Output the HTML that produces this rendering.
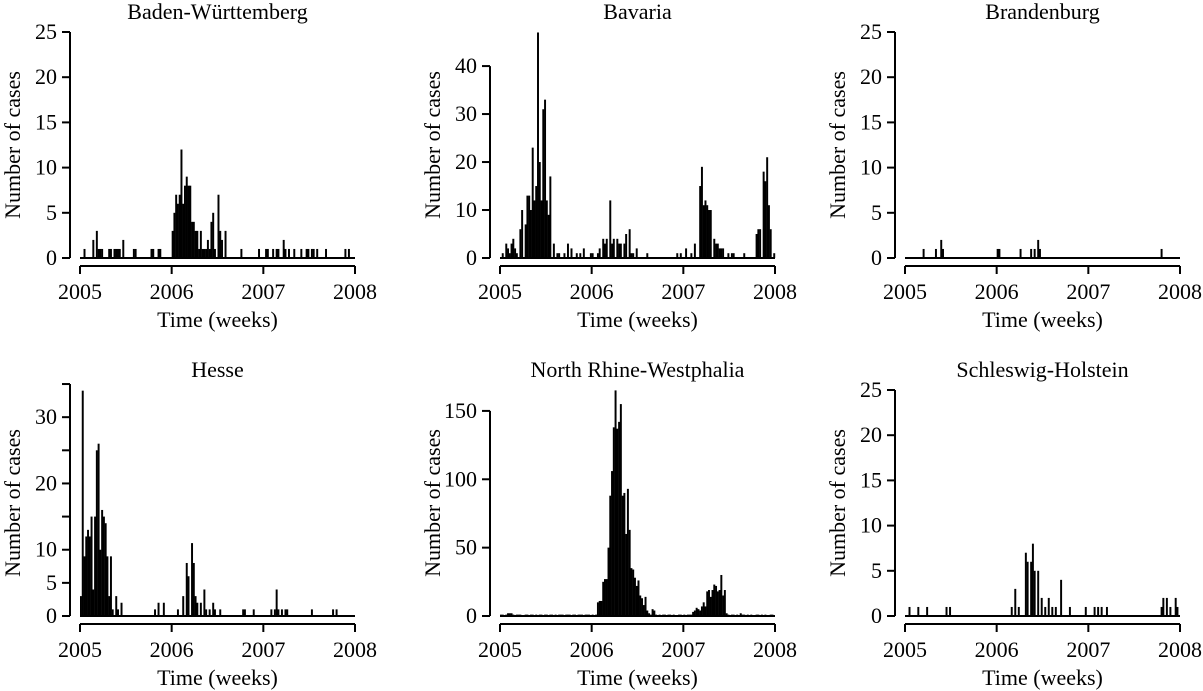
<!DOCTYPE html>
<html><head><meta charset="utf-8"><style>
html,body{margin:0;padding:0;background:#fff;}
svg{display:block;font-family:"Liberation Serif",serif;}
</style></head><body>
<svg id="fig" width="1203" height="691" viewBox="0 0 1203 691" xmlns="http://www.w3.org/2000/svg"></svg>
<script>
const xYears = [2005, 2006, 2007, 2008];
const bwWeeks = [2,7,9,10,11,12,16,17,19,20,21,22,24,30,31,40,41,44,45,52,53,54,55,56,57,58,59,60,61,62,63,64,65,66,67,68,69,70,71,72,73,74,75,76,78,79,80,82,91,101,105,106,109,111,112,115,116,118,121,125,128,129,131,132,134,139,150,152];
const bwCases = [1,2,3,1,1,1,1,1,1,1,1,1,2,1,1,1,1,1,1,3,5,7,6,7,12,6,8,9,8,8,4,4,3,3,1,3,1,1,1,2,1,4,5,1,7,3,2,3,1,1,1,1,1,1,1,2,1,1,1,1,1,1,1,1,1,1,1,1];
const bavWeeks = [1,3,4,5,6,7,8,9,11,12,14,15,16,17,18,19,20,21,22,23,24,25,26,27,28,30,32,33,36,38,40,43,45,47,51,52,55,56,58,59,60,62,63,64,66,67,68,70,71,73,74,75,77,83,100,102,105,108,110,113,114,115,116,117,118,119,121,122,123,124,125,126,129,131,132,138,145,146,147,149,150,151,152,153,155];
const bavCases = [1,3,2,1,3,4,2,1,6,10,7,13,13,10,23,12,15,47,20,12,31,33,12,9,17,3,1,1,1,3,2,1,1,2,1,1,1,2,4,3,4,12,3,4,4,3,3,3,5,6,1,1,2,1,1,1,2,1,3,15,19,11,12,11,10,10,4,3,3,2,2,2,1,1,1,1,5,6,6,18,16,21,11,6,1];
const braWeeks = [10,17,20,21,52,53,65,71,73,75,76,145];
const braCases = [1,1,2,1,1,1,1,1,1,2,1,1];
const heWeeks = [0,1,2,3,4,5,6,7,8,9,10,11,12,13,14,15,16,17,18,20,21,23,42,44,47,55,58,60,61,63,64,65,66,68,70,71,73,75,76,79,92,93,98,108,110,111,112,114,116,117,131,143,145];
const heCases = [3,34,9,12,13,12,15,4,15,25,26,10,16,15,14,9,3,9,1,3,1,2,1,2,2,1,3,8,6,11,8,3,2,2,4,1,1,2,1,1,1,1,1,1,1,4,1,1,1,1,1,1,1];
const nrwCases = [1,1,0,1,2,2,2,1,0,1, 1,1,0,0,1,1,0,1,1,0, 1,0,1,1,0,1,1,0,1,1, 0,1,0,1,1,1,0,1,1,1, 0,1,1,0,1,1,1,0,1,1, 1,0,1,0,1,
 10,11,11,25,27, 27,50,88,106,138,165,137,142,155,88, 90,60,93,63,35,34,28,22,26,15, 13,8,14,4,2,1,5,4,1,0,
 1,0,1,1,0,1,1,0,1,0, 0,1,1,0,1,0,1,1,1,3, 4,6,5,4,7,10,7,18,19,14, 19,23,22,18,19,30,15,19,2,1,
 0,1,1,0,1,0,2,1,1,0, 1,0,1,0,0,1,1,0,1,0, 1,0,0,1,1,0];
const shWeeks = [2,7,12,23,25,60,62,64,68,69,71,72,73,75,77,79,81,83,85,88,93,102,107,109,111,114,145,146,148,150,153,154];
const shCases = [1,1,1,1,1,1,3,1,7,6,6,8,5,5,2,1,2,1,1,4,1,1,1,1,1,1,1,2,2,1,2,1];
const ticks25 = [0,5,10,15,20,25];
const ticksBav = [0,10,20,30,40];
const ticksHe = [0,5,10,15,20,25,30,35];
const labelsHe = ["0","5","10","","20","","30",""];
const ticksNrw = [0,50,100,150];

const NS = "http://www.w3.org/2000/svg";
const svg = document.getElementById("fig");
function mk(tag, attrs, parent){ const e=document.createElementNS(NS,tag); for(const k in attrs) e.setAttribute(k,attrs[k]); (parent||svg).appendChild(e); return e; }

function panel(name, title, ox, oy, topVal, ticks, labels, weeks, cases){
  const g = mk("g",{});
  
  
  const base = 258 + oy, x0 = 80 + ox, x1 = 355 + ox;
  const k = (base - (32 + oy)) / topVal;
  const ys = v => base - v * k;
  const xs = yr => x0 + (yr - 2005) * (x1 - x0) / 3;
  const wk = (x1 - x0) / 156;
  const t = mk("text",{x:(x0+x1)/2, y:19+oy, "text-anchor":"middle","font-size":22},g);
  t.textContent = title;
  
  
  const ya = mk("line",{x1:70+ox,x2:70+ox,y1:ys(ticks[ticks.length-1]),y2:base,stroke:"#000","stroke-width":2},g);
  
  
  ticks.forEach((v,i)=>{
    mk("line",{x1:62+ox,x2:70+ox,y1:ys(v),y2:ys(v),stroke:"#000","stroke-width":2},g);
    const lab = labels ? labels[i] : String(v);
    if(lab){ const tl=mk("text",{x:57+ox,y:ys(v)+7,"text-anchor":"end","font-size":22},g); tl.textContent=lab;
      
       }
  });
  const yt = mk("text",{transform:`translate(${20+ox},${(32+258)/2+oy}) rotate(-90)`,"text-anchor":"middle","font-size":22},g);
  yt.textContent = "Number of cases";
  
  
  const xa = mk("line",{x1:x0,x2:x1,y1:266+oy,y2:266+oy,stroke:"#000","stroke-width":2},g);
  
  
  xYears.forEach(yr=>{
    mk("line",{x1:xs(yr),x2:xs(yr),y1:266+oy,y2:274+oy,stroke:"#000","stroke-width":2},g);
    const tl=mk("text",{x:xs(yr),y:299+oy,"text-anchor":"middle","font-size":22},g); tl.textContent=yr;
    
    
  });
  const xt = mk("text",{x:(x0+x1)/2,y:327+oy,"text-anchor":"middle","font-size":22},g);
  xt.textContent = "Time (weeks)";
  
  
  mk("line",{x1:x0,x2:x1,y1:base,y2:base,stroke:"#000","stroke-width":2},g);
  cases.forEach((v,i)=>{
    const w = weeks ? weeks[i] : i;
    if(v<=0) return;
    const r = mk("rect",{x:x0+w*wk,y:ys(v),width:wk+0.2,height:base-ys(v),fill:"#000"},g);
    
    
  });
}
panel("baden-wurttemberg","Baden-Württemberg",0,0,25,ticks25,null,bwWeeks,bwCases);
panel("bavaria","Bavaria",420,0,47.1,ticksBav,null,bavWeeks,bavCases);
panel("brandenburg","Brandenburg",825,0,25,ticks25,null,braWeeks,braCases);
panel("hesse","Hesse",0,358,34.1,ticksHe,labelsHe,heWeeks,heCases);
panel("north-rhine-westphalia","North Rhine-Westphalia",420,358,165.3,ticksNrw,null,null,nrwCases);
panel("schleswig-holstein","Schleswig-Holstein",825,358,25,ticks25,null,shWeeks,shCases);
</script>
</body></html>
